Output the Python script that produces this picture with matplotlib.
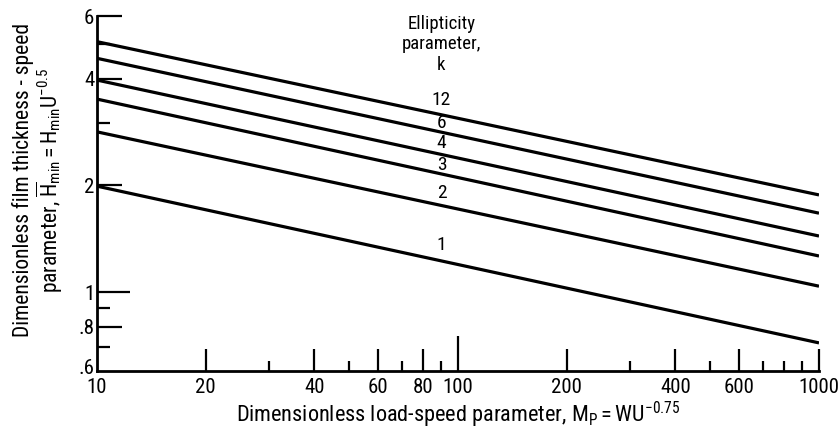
import math
import matplotlib
matplotlib.use("Agg")
import matplotlib.pyplot as plt
from matplotlib import font_manager
from matplotlib.transforms import ScaledTranslation
from matplotlib.ticker import FixedLocator, NullFormatter, FixedFormatter

names = {f.name for f in font_manager.fontManager.ttflist}
FONT = next((n for n in ["Roboto Condensed", "PT Sans Narrow", "Archivo Narrow", "DejaVu Sans"] if n in names), "DejaVu Sans")
plt.rcParams["font.family"] = [FONT, "DejaVu Sans"]
plt.rcParams["mathtext.fontset"] = "custom"
plt.rcParams["mathtext.rm"] = FONT
plt.rcParams["mathtext.it"] = FONT

# Data: film thickness parameter at M = 10 and M = 1000 for each ellipticity k
k_labels = ["12", "6", "4", "3", "2", "1"]
load_speed = [10, 1000]
h_k12 = [5.08, 1.88]
h_k6 = [4.56, 1.67]
h_k4 = [3.96, 1.44]
h_k3 = [3.50, 1.265]
h_k2 = [2.83, 1.04]
h_k1 = [1.99, 0.72]
series = [h_k12, h_k6, h_k4, h_k3, h_k2, h_k1]

x_major = [10, 20, 40, 60, 80, 100, 200, 400, 600, 1000]
x_major_labels = ["10", "20", "40", "60", "80", "100", "200", "400", "600", "1000"]
x_minor = [30, 50, 70, 90, 300, 500, 700, 800, 900]
y_major = [0.6, 0.8, 1, 2, 4, 6]
y_major_labels = [".6", ".8", "1", "2", "4", "6"]
y_minor = [0.7, 0.9, 3, 5]

label_x = 90
label_offsets = [11, 6.5, 8.3, 6.5, 9, 11.5]

fig = plt.figure(figsize=(8.4, 4.34), dpi=100)
ax = fig.add_axes([97 / 840, 1 - 371 / 434, (819 - 97) / 840, (371 - 16) / 434])
ax.set_xscale("log")
ax.set_yscale("log")
ax.set_xlim(10, 1000)
ax.set_ylim(0.6, 6)

for vals, lab, off in zip(series, k_labels, label_offsets):
    ax.plot(load_speed, vals, color="black", lw=2.3, solid_capstyle="butt")
    t = (math.log10(label_x) - math.log10(load_speed[0])) / (math.log10(load_speed[1]) - math.log10(load_speed[0]))
    yv = 10 ** (math.log10(vals[0]) + t * (math.log10(vals[1]) - math.log10(vals[0])))
    ax.annotate(lab, (label_x, yv), xytext=(0, off), textcoords="offset points",
                ha="center", va="center", fontsize=14)

ax.annotate("Ellipticity\nparameter,\nk", (label_x, 6), xytext=(0, 1), textcoords="offset points",
            ha="center", va="top", fontsize=13.5, linespacing=1.2)

for s in ["top", "right"]:
    ax.spines[s].set_visible(False)
for s in ["left", "bottom"]:
    ax.spines[s].set_linewidth(2)

ax.xaxis.set_major_locator(FixedLocator(x_major))
ax.xaxis.set_major_formatter(FixedFormatter(x_major_labels))
ax.xaxis.set_minor_locator(FixedLocator(x_minor))
ax.xaxis.set_minor_formatter(NullFormatter())
ax.yaxis.set_major_locator(FixedLocator(y_major))
ax.yaxis.set_major_formatter(FixedFormatter(y_major_labels))
ax.yaxis.set_minor_locator(FixedLocator(y_minor))
ax.yaxis.set_minor_formatter(NullFormatter())

ax.tick_params(axis="x", which="major", direction="in", length=16, width=1.6, labelsize=15, pad=5)
ax.tick_params(axis="x", which="minor", direction="in", length=7, width=1.6)
ax.tick_params(axis="y", which="major", direction="in", length=18, width=1.6, labelsize=15, pad=2)
ax.tick_params(axis="y", which="minor", direction="in", length=9, width=1.6)

# longer ticks at 100 and 1; no tick marks at the corner
for tk, v in zip(ax.xaxis.get_major_ticks(), x_major):
    if v == 100:
        tk.tick1line.set_markersize(25)
    if v == 10:
        tk.tick1line.set_markersize(0)
for tk, v in zip(ax.yaxis.get_major_ticks(), y_major):
    if v == 1:
        tk.tick1line.set_markersize(24)
    if v == 0.6:
        tk.tick1line.set_markersize(0)
        tk.label1.set_transform(tk.label1.get_transform() + ScaledTranslation(0, 3 / 72, fig.dpi_scale_trans))

ax.set_xlabel(r"Dimensionless load-speed parameter, $\mathrm{M_P = WU^{-0.75}}$", fontsize=16, labelpad=2)
ax.set_ylabel("Dimensionless film thickness - speed\n"
              r"parameter, $\overline{\mathrm{H}}_{\mathrm{min}} = \mathrm{H_{min}U^{-0.5}}$",
              fontsize=15.5, linespacing=1.0)
ax.yaxis.set_label_coords(-0.045, 0.538)

fig.savefig("out.png", dpi=100)
